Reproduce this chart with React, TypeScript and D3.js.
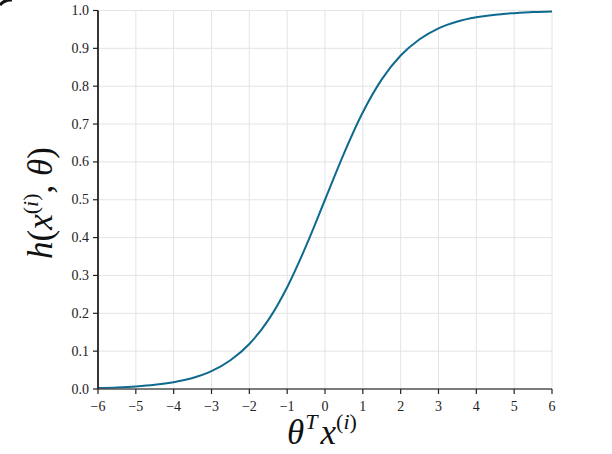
import React from "react";
import * as d3 from "d3";

const xs = [-6, -5.5, -5, -4.5, -4, -3.5, -3, -2.5, -2, -1.5, -1, -0.5, 0, 0.5, 1, 1.5, 2, 2.5, 3, 3.5, 4, 4.5, 5, 5.5, 6];
const hs = [0.0025, 0.0041, 0.0067, 0.011, 0.018, 0.029, 0.047, 0.076, 0.119, 0.182, 0.269, 0.378, 0.5, 0.622, 0.731, 0.818, 0.881, 0.924, 0.953, 0.971, 0.982, 0.989, 0.993, 0.996, 0.9975];
const xTicks = [-6, -5, -4, -3, -2, -1, 0, 1, 2, 3, 4, 5, 6];
const yTicks = [0, 0.1, 0.2, 0.3, 0.4, 0.5, 0.6, 0.7, 0.8, 0.9, 1.0];

export default function App() {
  const W = 612, H = 454;
  const x = d3.scaleLinear().domain([-6, 6]).range([98, 552]);
  const y = d3.scaleLinear().domain([0, 1]).range([389, 10.5]);
  const line = d3.line<number>().x((_, i) => x(xs[i])).y((d) => y(d)).curve(d3.curveMonotoneX);
  const font = "Liberation Serif, DejaVu Serif, serif";
  const tickFont = "Liberation Serif, serif";
  const fmtX = (v: number) => (v < 0 ? "\u2212" + Math.abs(v) : String(v));
  return (
    <svg width={W} height={H} style={{ position: "absolute", left: 0, top: 0, background: "#fff" }}>
      <rect width={W} height={H} fill="#fff" />
      <path d="M0,5 A14,14 0 0 1 12,0" fill="none" stroke="#111" strokeWidth={3} />
      {xTicks.map((t) => (
        <line key={"gx" + t} x1={x(t)} x2={x(t)} y1={y(1)} y2={y(0)} stroke="#e4e4e4" strokeWidth={1} />
      ))}
      {yTicks.map((t) => (
        <line key={"gy" + t} x1={x(-6)} x2={x(6)} y1={y(t)} y2={y(t)} stroke="#e4e4e4" strokeWidth={1} />
      ))}
      <path d={line(hs) || ""} fill="none" stroke="#0e6a8e" strokeWidth={2} />
      <line x1={x(-6)} x2={x(6)} y1={y(0)} y2={y(0)} stroke="#555" strokeWidth={1.6} />
      <line x1={x(-6)} x2={x(-6)} y1={y(0)} y2={y(1)} stroke="#222" strokeWidth={1.8} />
      {xTicks.map((t) => (
        <g key={"tx" + t}>
          <line x1={x(t)} x2={x(t)} y1={y(0)} y2={y(0) + 5} stroke="#222" strokeWidth={1.2} />
          <text x={x(t)} y={411} textAnchor="middle" style={{ fontFamily: tickFont }} fontSize={14} fill="#222">
            {fmtX(t)}
          </text>
        </g>
      ))}
      {yTicks.map((t) => (
        <g key={"ty" + t}>
          <line x1={x(-6) - 5} x2={x(-6)} y1={y(t)} y2={y(t)} stroke="#222" strokeWidth={1.2} />
          <text x={89} y={y(t) + 4.5} textAnchor="end" style={{ fontFamily: tickFont }} fontSize={14} fill="#222">
            {t.toFixed(1)}
          </text>
        </g>
      ))}
      <text transform="translate(52,203) rotate(-90)" textAnchor="middle" style={{ fontFamily: font }} fontSize={35} fill="#111">
        <tspan fontStyle="italic">h</tspan>
        <tspan>(</tspan>
        <tspan fontStyle="italic">x</tspan>
        <tspan fontSize={22} dy={-14}>(</tspan>
        <tspan fontSize={22} fontStyle="italic">i</tspan>
        <tspan fontSize={22}>)</tspan>
        <tspan dy={14}>, </tspan>
        <tspan fontStyle="italic">θ</tspan>
        <tspan>)</tspan>
      </text>
      <text x={322} y={444} textAnchor="middle" style={{ fontFamily: font }} fontSize={35} fill="#111">
        <tspan fontStyle="italic">θ</tspan>
        <tspan fontSize={22} fontStyle="italic" dy={-15} dx={1}>T</tspan>
        <tspan fontStyle="italic" dy={15} dx={3}>x</tspan>
        <tspan fontSize={22} dy={-15}>(</tspan>
        <tspan fontSize={22} fontStyle="italic">i</tspan>
        <tspan fontSize={22}>)</tspan>
      </text>
    </svg>
  );
}
